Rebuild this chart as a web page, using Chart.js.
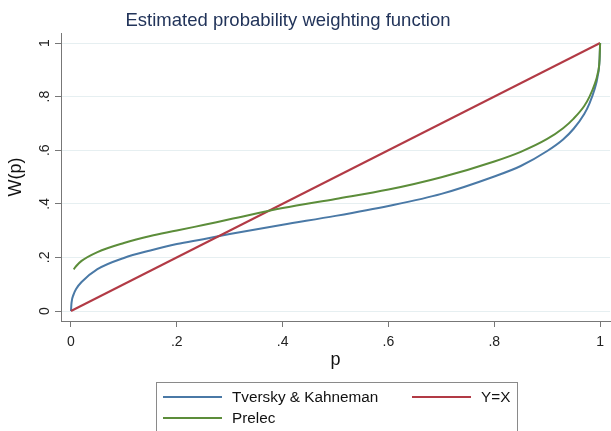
<!DOCTYPE html>
<html>
<head>
<meta charset="utf-8">
<script src="https://cdn.jsdelivr.net/npm/chart.js@4.4.1/dist/chart.umd.min.js"></script>
<style>
  html, body { margin: 0; padding: 0; background: #fff; }
  #wrap { width: 611px; height: 431px; }
</style>
</head>
<body>
<div id="wrap"><canvas id="myChart" width="611" height="431"></canvas></div>
<script>
// values
const tkP = [0, 0.001, 0.005, 0.01, 0.02, 0.05, 0.1, 0.15, 0.2, 0.25, 0.3, 0.4, 0.5, 0.6, 0.7, 0.8, 0.85, 0.9, 0.93, 0.95, 0.97, 0.98, 0.99, 0.995, 0.999, 1];
const tkW = [0, 0.03, 0.062, 0.083, 0.108, 0.156, 0.198, 0.226, 0.25, 0.268, 0.287, 0.322, 0.355, 0.392, 0.437, 0.502, 0.541, 0.597, 0.64, 0.68, 0.735, 0.775, 0.83, 0.872, 0.94, 1];

const prelecP = [0.005, 0.01, 0.02, 0.05, 0.1, 0.15, 0.2, 0.25, 0.3, 0.4, 0.5, 0.6, 0.7, 0.8, 0.85, 0.9, 0.93, 0.95, 0.97, 0.98, 0.99, 0.995, 0.999, 1];
const prelecW = [0.155, 0.168, 0.187, 0.22, 0.254, 0.28, 0.3, 0.321, 0.342, 0.384, 0.418, 0.453, 0.499, 0.558, 0.594, 0.642, 0.682, 0.718, 0.765, 0.8, 0.848, 0.882, 0.94, 1];

const diagP = [0, 1];
const diagW = [0, 1];

const tickValues = [0, 0.2, 0.4, 0.6, 0.8, 1];
const tickLabels = ['0', '.2', '.4', '.6', '.8', '1'];

const seriesNames = ['Tversky & Kahneman', 'Y=X', 'Prelec'];
const seriesColors = ['#4a79a6', '#b23a45', '#5c8d3a'];

const FONT = '"Liberation Sans", Arial, sans-serif';

function toPoints(xs, ys) {
    return xs.map((x, i) => ({ x: x, y: ys[i] }));
}

function fmtTick(v) {
    const i = tickValues.indexOf(v);
    return i >= 0 ? tickLabels[i] : '';
}

function setTicks(scale) {
    scale.ticks = tickValues.map(v => ({ value: v }));
}

// title drawn by hand so it sits where the original put it
const titlePlugin = {
    id: 'stataTitle',
    afterDraw(chart) {
        const ctx = chart.ctx;
        ctx.save();
        ctx.font = '18.5px ' + FONT;
        ctx.fillStyle = '#22345a';
        ctx.textAlign = 'center';
        ctx.textBaseline = 'alphabetic';
        ctx.fillText('Estimated probability weighting function', 288, 25.5);
        ctx.restore();
    }
};

// boxed two-column legend like the Stata one
const legendPlugin = {
    id: 'stataLegend',
    afterDraw(chart) {
        const ctx = chart.ctx;
        ctx.save();
        ctx.strokeStyle = '#8a8a8a';
        ctx.lineWidth = 1;
        ctx.strokeRect(156.5, 382.5, 361, 70);
        const items = [
            { x: 163, y: 397, i: 0 },
            { x: 412, y: 397, i: 1 },
            { x: 163, y: 418, i: 2 }
        ];
        ctx.font = '15.3px ' + FONT;
        ctx.textBaseline = 'middle';
        ctx.textAlign = 'left';
        items.forEach(it => {
            ctx.strokeStyle = seriesColors[it.i];
            ctx.lineWidth = 2;
            ctx.beginPath();
            ctx.moveTo(it.x, it.y);
            ctx.lineTo(it.x + 59, it.y);
            ctx.stroke();
            ctx.fillStyle = '#111';
            ctx.fillText(seriesNames[it.i], it.x + 69, it.y + 1);
        });
        ctx.restore();
    }
};

const ctx = document.getElementById('myChart').getContext('2d');
const myChart = new Chart(ctx, {
    type: 'line',
    data: {
        datasets: [
            { label: seriesNames[0], data: toPoints(tkP, tkW), borderColor: seriesColors[0], order: 3 },
            { label: seriesNames[1], data: toPoints(diagP, diagW), borderColor: seriesColors[1], order: 2 },
            { label: seriesNames[2], data: toPoints(prelecP, prelecW), borderColor: seriesColors[2], order: 1 }
        ]
    },
    options: {
        responsive: false,
        animation: false,
        datasets: {
            line: {
                borderWidth: 2,
                pointRadius: 0,
                fill: false,
                cubicInterpolationMode: 'monotone'
            }
        },
        layout: { padding: { top: 33, right: 0, bottom: 60, left: 0 } },
        plugins: {
            legend: { display: false },
            title: { display: false },
            tooltip: { enabled: false }
        },
        scales: {
            x: {
                type: 'linear',
                min: -10 / 530,
                max: 1 + 10 / 530,
                afterBuildTicks: setTicks,
                afterFit: s => { s.height = 50; },
                ticks: {
                    callback: fmtTick,
                    maxRotation: 0,
                    font: { family: FONT, size: 14 },
                    color: '#222',
                    padding: 7
                },
                grid: { drawOnChartArea: false, tickColor: '#777', tickLength: 6 },
                border: { color: '#777' },
                title: {
                    display: true,
                    text: 'p',
                    font: { family: FONT, size: 18 },
                    color: '#111',
                    padding: { top: 0, bottom: 0 }
                }
            },
            y: {
                type: 'linear',
                min: -10 / 268,
                max: 1 + 10 / 268,
                afterBuildTicks: setTicks,
                afterFit: s => { s.width = 61; },
                ticks: {
                    callback: fmtTick,
                    minRotation: 90,
                    maxRotation: 90,
                    crossAlign: 'center',
                    font: { family: FONT, size: 14 },
                    color: '#222',
                    padding: 4
                },
                grid: { color: '#e6eff1', tickColor: '#777', tickLength: 6 },
                border: { color: '#777' },
                title: {
                    display: true,
                    text: 'W(p)',
                    font: { family: FONT, size: 18 },
                    color: '#111',
                    padding: { top: 5, bottom: 0 }
                }
            }
        }
    },
    plugins: [titlePlugin, legendPlugin]
});
</script>
</body>
</html>
